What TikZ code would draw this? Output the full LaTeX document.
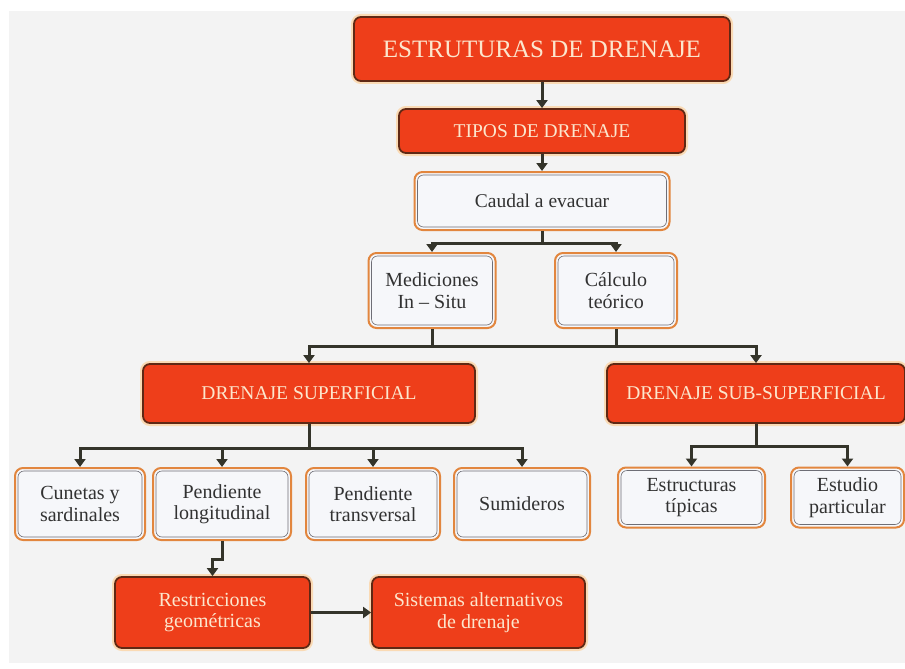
\documentclass[tikz,border=0pt]{standalone}
\usepackage{fontspec}
\setmainfont{Liberation Serif}
\usetikzlibrary{arrows.meta}
\definecolor{redfill}{RGB}{238,62,26}
\definecolor{redborder}{RGB}{95,40,20}
\definecolor{glow}{RGB}{250,218,180}
\definecolor{cream}{RGB}{252,230,205}
\definecolor{boxfill}{RGB}{246,247,250}
\definecolor{orangeline}{RGB}{226,134,62}
\definecolor{innerline}{RGB}{110,110,118}
\definecolor{txt}{RGB}{50,50,50}
\definecolor{conncol}{RGB}{52,52,42}
\definecolor{panel}{RGB}{243,243,243}
\begin{document}
\begin{tikzpicture}[x=1pt,y=-1pt,
  redbox/.style={rectangle, rounded corners=7pt, fill=redfill, draw=redborder,
    line width=1.8pt, text=cream, align=center, inner sep=0pt,
    preaction={draw=glow, line width=6pt}},
  whitebox/.style={rectangle, rounded corners=8pt, fill=boxfill, draw=orangeline,
    line width=2pt, text=txt, align=center, inner sep=0pt,
    path picture={\draw[innerline, line width=0.6pt, rounded corners=6pt]
      ([shift={(3pt,-3pt)}]path picture bounding box.north west) rectangle
      ([shift={(-3pt,3pt)}]path picture bounding box.south east);}},
  bigfont/.style={font=\fontsize{25}{30}\selectfont},
  midfont/.style={font=\fontsize{19.5}{23}\selectfont},
  smallfont/.style={font=\fontsize{20}{21.5}\selectfont},
  conn/.style={draw=conncol, line width=3pt},
  arr/.style={conn, -{Triangle[length=8pt,width=11pt]}}]
\useasboundingbox (0,0) rectangle (905,669);
\fill[white] (0,0) rectangle (905,669);
\fill[panel] (9,11) rectangle (905,663);

% nodes
\node[redbox, bigfont, minimum width=376pt, minimum height=64pt] (e1) at (542,49) {ESTRUTURAS DE DRENAJE};
\node[redbox, midfont, minimum width=286pt, minimum height=44pt] (e2) at (542,131) {TIPOS DE DRENAJE};
\node[whitebox, midfont, minimum width=255pt, minimum height=58pt] (caudal) at (542,201) {Caudal a evacuar};
\node[whitebox, smallfont, minimum width=127pt, minimum height=75pt] (med) at (432,290.5) {Mediciones\\In -- Situ};
\node[whitebox, smallfont, minimum width=122pt, minimum height=75pt] (calc) at (616,290.5) {Cálculo\\teórico};
\node[redbox, midfont, minimum width=332pt, minimum height=59pt] (sup) at (309,393.5) {DRENAJE SUPERFICIAL};
\node[redbox, midfont, minimum width=298pt, minimum height=59pt] (sub) at (756,393.5) {DRENAJE SUB-SUPERFICIAL};
\node[whitebox, smallfont, minimum width=130pt, minimum height=72pt] (cun) at (80,504) {Cunetas y\\sardinales};
\node[whitebox, smallfont, minimum width=138pt, minimum height=72pt] (pl) at (222,504) {Pendiente\\longitudinal};
\node[whitebox, smallfont, minimum width=134pt, minimum height=72pt] (pt) at (373,504) {Pendiente\\transversal};
\node[whitebox, smallfont, minimum width=136pt, minimum height=72pt] (sum) at (522,504) {Sumideros};
\node[whitebox, smallfont, minimum width=147pt, minimum height=60pt] (estr) at (691.5,497.5) {Estructuras\\típicas};
\node[whitebox, smallfont, minimum width=113pt, minimum height=60pt] (estu) at (847.5,497.5) {Estudio\\particular};
\node[redbox, smallfont, minimum width=195pt, minimum height=71pt] (restr) at (212.5,612.5) {Restricciones\\geométricas};
\node[redbox, smallfont, minimum width=213pt, minimum height=71pt] (sist) at (478.5,612.5) {Sistemas alternativos\\de drenaje};

% connectors
\draw[arr] (e1) -- (e2);
\draw[arr] (e2) -- (caudal);
\draw[arr] (caudal.south) -- ++(0,12) -| (med.north);
\draw[arr] (caudal.south) -- ++(0,12) -| (calc.north);
\coordinate (b2) at (500,346);
\draw[arr] (med.south) -- (med.south |- b2) -| (sup.north);
\draw[arr] (calc.south) -- (calc.south |- b2) -| (sub.north);
\draw[conn] (med.south |- b2) -- (calc.south |- b2);
\foreach \n in {cun,pl,pt,sum}{
  \draw[arr] (sup.south) -- ++(0,25) -| (\n.north);
}
\foreach \n in {estr,estu}{
  \draw[arr] (sub.south) -- ++(0,23) -| (\n.north);
}
\draw[arr] (pl.south) -- ++(0,18) -| (restr.north);
\draw[arr] (restr) -- (sist);
\end{tikzpicture}
\end{document}
